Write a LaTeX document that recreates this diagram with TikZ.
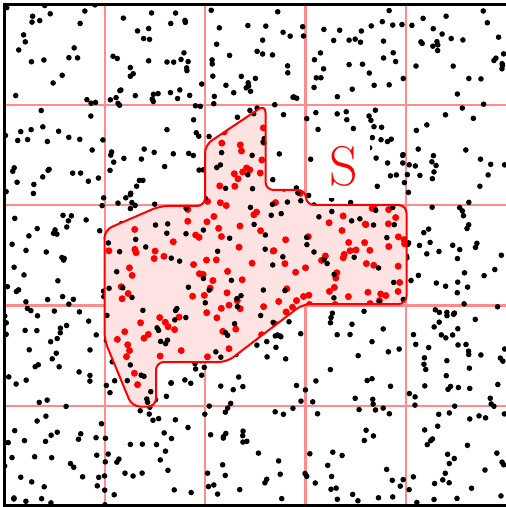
\documentclass[tikz,border=0pt]{standalone}
\begin{document}
\begin{tikzpicture}[x=0.5pt,y=-0.5pt,
  gridline/.style={red!45, line width=1.1pt},
  frameline/.style={black, line width=1.2pt},
  regionfill/.style={fill=red!11},
  regionline/.style={draw=red, line width=1pt},
  blackdot/.style={fill=black},
  reddot/.style={fill=red},
  labeltext/.style={text=red, fill=white, inner sep=6pt, font=\fontsize{28}{32}\selectfont}]
\useasboundingbox (0,0) rectangle (505,507);
\fill[white] (0,0) rectangle (505,507);
% grid
\foreach \g in {104.8,205.1,305.4,405.7} {
  \draw[gridline] (\g,4.5) -- (\g,505.5);
  \draw[gridline] (4.5,\g) -- (507,\g);
}
% black dots everywhere
\pgfmathsetseed{1234}
\begin{scope}
\clip (4.5,4.5) rectangle (507,505.5);
\foreach \i in {1,...,780} {
  \pgfmathsetmacro{\px}{4.5+501*rnd}
  \pgfmathsetmacro{\py}{4.5+501*rnd}
  \fill[blackdot] (\px,\py) circle (2.8);
}
\end{scope}
% label box
\node[labeltext] (S) at (344,166) {S};
% region fill (covers dots below)
\fill[regionfill, rounded corners=4pt] (265.5,104.5) -- (265.5,190) -- (306,190) -- (306,205) -- (406.5,205) -- (406.5,304) -- (303,304) -- (227,362) -- (156,362) -- (156,406.5) -- (132,406.5) -- (104.5,340) -- (104.5,230) -- (160,206) -- (205,206) -- (205,145) -- cycle;
% dots inside region
\begin{scope}
\clip[rounded corners=4pt] (265.5,104.5) -- (265.5,190) -- (306,190) -- (306,205) -- (406.5,205) -- (406.5,304) -- (303,304) -- (227,362) -- (156,362) -- (156,406.5) -- (132,406.5) -- (104.5,340) -- (104.5,230) -- (160,206) -- (205,206) -- (205,145) -- cycle;
\pgfmathsetseed{4711}
\foreach \i in {1,...,290} {
  \pgfmathsetmacro{\px}{106+299*rnd}
  \pgfmathsetmacro{\py}{106+299*rnd}
  \fill[reddot] (\px,\py) circle (3.5);
}
\pgfmathsetseed{271}
\foreach \i in {1,...,200} {
  \pgfmathsetmacro{\px}{106+299*rnd}
  \pgfmathsetmacro{\py}{106+299*rnd}
  \fill[blackdot] (\px,\py) circle (2.8);
}
\end{scope}
% region outline
\draw[regionline, rounded corners=4pt] (265.5,104.5) -- (265.5,190) -- (306,190) -- (306,205) -- (406.5,205) -- (406.5,304) -- (303,304) -- (227,362) -- (156,362) -- (156,406.5) -- (132,406.5) -- (104.5,340) -- (104.5,230) -- (160,206) -- (205,206) -- (205,145) -- cycle;
% frame
\draw[frameline] (4.5,4.5) rectangle (507.5,505.5);
\end{tikzpicture}
\end{document}
